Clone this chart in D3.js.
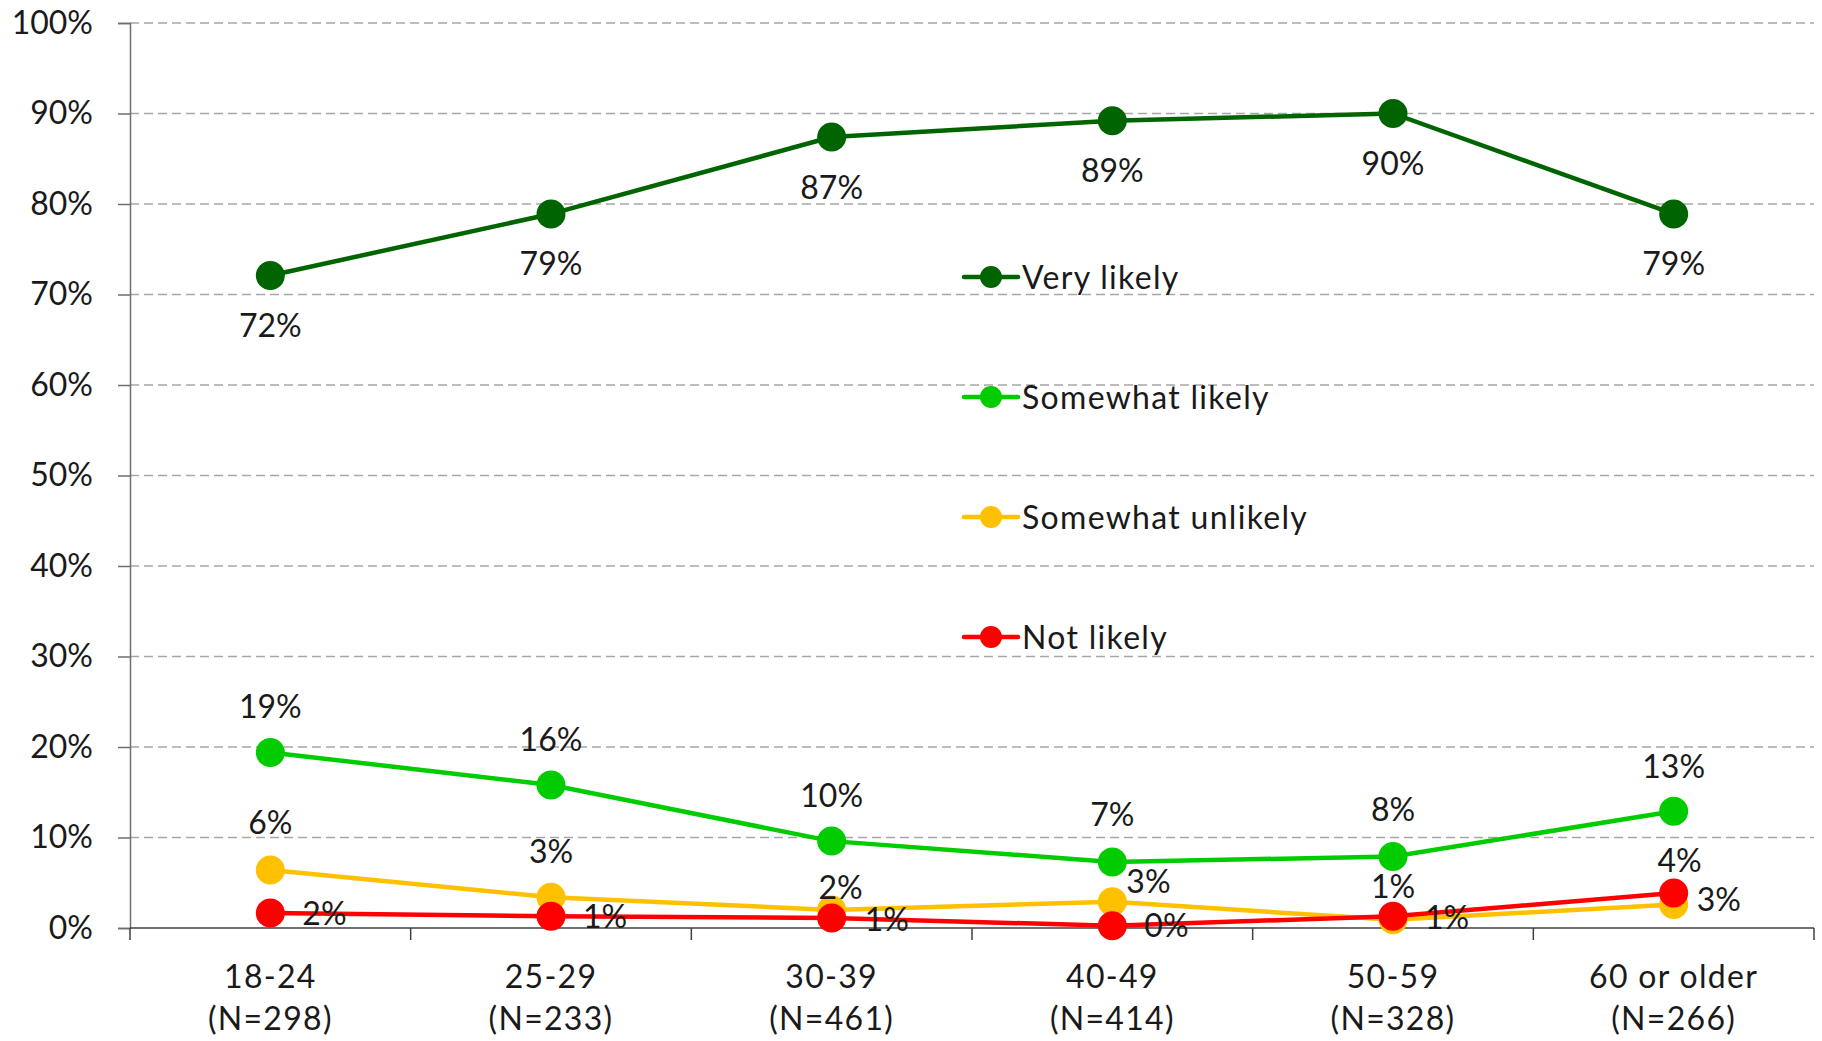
<!DOCTYPE html>
<html>
<head>
<meta charset="utf-8">
<script src="https://cdn.jsdelivr.net/npm/d3@7"></script>
<style>
  html, body { margin: 0; padding: 0; background: #ffffff; }
  svg { display: block; font-family: Lato, "Open Sans", sans-serif; }
</style>
</head>
<body>
<svg id="chart" width="1822" height="1041"></svg>
<script>
// ---- data ----
const categories = ["18-24", "25-29", "30-39", "40-49", "50-59", "60 or older"];
const sampleSizes = ["(N=298)", "(N=233)", "(N=461)", "(N=414)", "(N=328)", "(N=266)"];
const seriesNames = ["Very likely", "Somewhat likely", "Somewhat unlikely", "Not likely"];
const veryLikely       = [72.1, 78.9, 87.4, 89.2, 90.0, 78.9];
const somewhatLikely   = [19.4, 15.8, 9.6, 7.3, 7.9, 12.9];
const somewhatUnlikely = [6.4, 3.4, 2.0, 2.9, 0.9, 2.6];
const notLikely        = [1.65, 1.3, 1.1, 0.25, 1.3, 3.86];
const yTicks = [0, 10, 20, 30, 40, 50, 60, 70, 80, 90, 100];

// ---- styles / layout (kept apart from the data) ----
const colors = ["#006400", "#00cc00", "#ffc000", "#ff0000"];
// label offsets per series per point [dx, dy] relative to the marker centre
const labelOffsets = [
  [[0,50],[0,50],[0,50],[0,50],[0,50],[0,50]],
  [[0,-46],[0,-46],[0,-46],[0,-47],[0,-47],[0,-45]],
  [[0,-48],[0,-46],[9,-22],[34,-20],[0,-33],[43,-5]],
  [[52,0],[52,0],[53,1],[52,0],[52,1],[6,-33]]
];
const plot = { left: 130, right: 1814, top: 23, bottom: 928 };
const fontSize = 32;
const wordSpacing = "1.3px";

const seriesValues = [veryLikely, somewhatLikely, somewhatUnlikely, notLikely];

const svg = d3.select("#chart");
const x = d3.scaleBand().domain(categories).range([plot.left, plot.right]);
const y = d3.scaleLinear().domain([0, 100]).range([plot.bottom, plot.top]);

// gridlines
svg.append("g").selectAll("line")
  .data(yTicks.filter(d => d > 0))
  .join("line")
  .attr("x1", plot.left).attr("x2", plot.right)
  .attr("y1", d => y(d)).attr("y2", d => y(d))
  .attr("stroke", "#a6a6a6").attr("stroke-width", 1.4)
  .attr("stroke-dasharray", "9,5");

// y axis
const yAxis = svg.append("g")
  .attr("transform", `translate(${plot.left},0)`)
  .call(d3.axisLeft(y).tickValues(yTicks).tickFormat(d => d + "%").tickSize(12).tickPadding(25));
yAxis.select(".domain").attr("stroke", "#6e6e6e").attr("stroke-width", 1.5);
yAxis.selectAll(".tick line").attr("stroke", "#6e6e6e").attr("stroke-width", 1.5);
yAxis.selectAll(".tick text").attr("font-size", fontSize).attr("fill", "#1a1a1a")
  .attr("font-family", "Lato, sans-serif");

// x axis (domain line + ticks at category boundaries)
const xAxis = svg.append("g").attr("transform", `translate(0,${plot.bottom})`);
xAxis.append("line").attr("x1", plot.left).attr("x2", plot.right)
  .attr("stroke", "#404040").attr("stroke-width", 1.6);
const bounds = categories.map(c => x(c)).concat([x(categories[categories.length - 1]) + x.bandwidth()]);
xAxis.selectAll(".bt").data(bounds).join("line").attr("class", "bt")
  .attr("x1", d => d).attr("x2", d => d).attr("y1", 0).attr("y2", 12)
  .attr("stroke", "#404040").attr("stroke-width", 1.5);
const catLabels = xAxis.selectAll(".cl").data(categories).join("text").attr("class", "cl")
  .attr("text-anchor", "middle")
  .attr("font-size", fontSize).attr("fill", "#1a1a1a")
  .attr("letter-spacing", wordSpacing)
  .attr("transform", d => `translate(${x(d) + x.bandwidth() / 2},0)`);
catLabels.append("tspan").attr("x", 0).attr("y", 60).text(d => d);
catLabels.append("tspan").attr("x", 0).attr("y", 102).text((d, i) => sampleSizes[i]);

// lines and markers
const line = d3.line().x((d, i) => x(categories[i]) + x.bandwidth() / 2).y(d => y(d));
seriesValues.forEach((vals, s) => {
  const g = svg.append("g");
  g.append("path").datum(vals).attr("d", line)
    .attr("fill", "none").attr("stroke", colors[s]).attr("stroke-width", 4.5)
    .attr("stroke-linejoin", "round");
  g.selectAll("circle").data(vals).join("circle")
    .attr("cx", (d, i) => x(categories[i]) + x.bandwidth() / 2)
    .attr("cy", d => y(d)).attr("r", 14.5).attr("fill", colors[s]);
});

// data labels
seriesValues.forEach((vals, s) => {
  svg.append("g").selectAll("text").data(vals).join("text")
    .attr("x", (d, i) => x(categories[i]) + x.bandwidth() / 2 + labelOffsets[s][i][0])
    .attr("y", (d, i) => y(d) + labelOffsets[s][i][1])
    .attr("dy", "0.36em")
    .attr("text-anchor", (d, i) => labelOffsets[s][i][0] > 20 ? "start" : "middle")
    .attr("dx", (d, i) => labelOffsets[s][i][0] > 20 ? -20 : 0)
    .attr("font-size", fontSize).attr("fill", "#1a1a1a")
    .text(d => Math.round(d) + "%");
});

// legend
const legend = svg.append("g").attr("transform", "translate(964,277)");
seriesNames.forEach((name, s) => {
  const g = legend.append("g").attr("transform", `translate(0,${s * 120})`);
  g.append("line").attr("x1", 0).attr("x2", 54).attr("y1", 0).attr("y2", 0)
    .attr("stroke", colors[s]).attr("stroke-width", 4.5).attr("stroke-linecap", "round");
  g.append("circle").attr("cx", 27).attr("cy", 0).attr("r", 11).attr("fill", colors[s]);
  g.append("text").attr("x", 58).attr("y", 0).attr("dy", "0.36em")
    .attr("letter-spacing", wordSpacing)
    .attr("font-size", fontSize).attr("fill", "#1a1a1a").text(name);
});
</script>
</body>
</html>
